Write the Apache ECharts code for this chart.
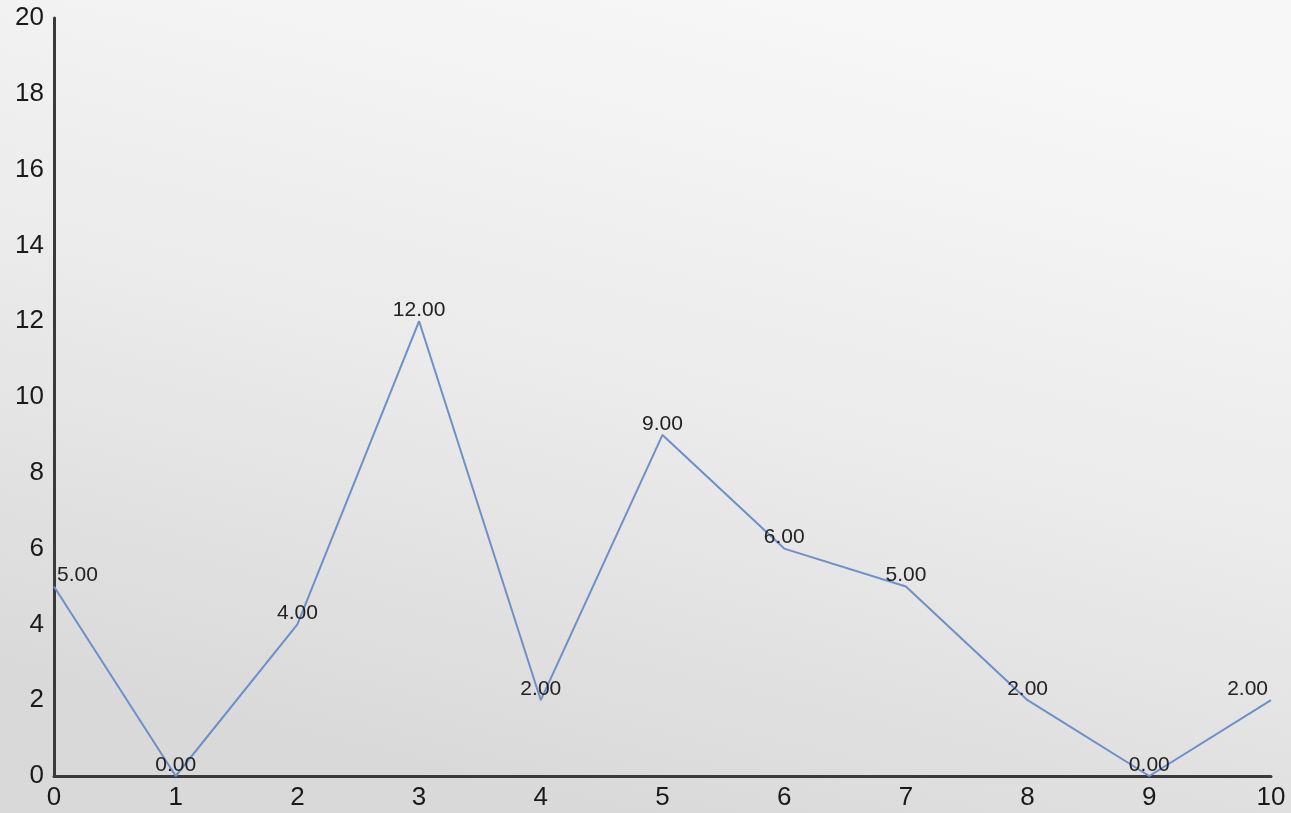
<!DOCTYPE html>
<html>
<head>
<meta charset="utf-8">
<script src="https://cdn.jsdelivr.net/npm/echarts@6/dist/echarts.min.js"></script>
<style>
html,body{margin:0;padding:0;}
#c{width:1291px;height:813px;}
</style>
</head>
<body>
<div id="c"></div>
<script>
var xValues = [0, 1, 2, 3, 4, 5, 6, 7, 8, 9, 10];
var yValues = [5, 0, 4, 12, 2, 9, 6, 5, 2, 0, 2];
var xTicks = [0, 1, 2, 3, 4, 5, 6, 7, 8, 9, 10];
var yTicks = [0, 2, 4, 6, 8, 10, 12, 14, 16, 18, 20];

var last = xValues.length - 1;
var seriesData = xValues.map(function (x, i) {
  var item = { value: [x, yValues[i]] };
  if (i === 0) item.label = { align: 'left', offset: [3, 0] };
  if (i === last) item.label = { align: 'right', offset: [-3, 0] };
  return item;
});

var FONT = '"Liberation Sans", Arial, sans-serif';
var chart = echarts.init(document.getElementById('c'), null, { renderer: 'canvas' });
chart.setOption({
  animation: false,
  backgroundColor: {
    type: 'linear', x: 0.6, y: 0, x2: 0.45, y2: 1,
    colorStops: [
      { offset: 0, color: '#f7f7f7' },
      { offset: 0.5, color: '#ebebeb' },
      { offset: 1, color: '#d9d9d9' }
    ]
  },
  grid: { left: 54, right: 20, top: 18, bottom: 37, containLabel: false },
  xAxis: {
    type: 'value',
    min: xTicks[0], max: xTicks[xTicks.length - 1], interval: 1,
    axisLine: { show: true, lineStyle: { color: '#3a3a3a', width: 3 } },
    axisTick: { show: false },
    splitLine: { show: false },
    axisLabel: { color: '#1a1a1a', fontSize: 26, fontFamily: FONT, margin: 9 }
  },
  yAxis: {
    type: 'value',
    min: yTicks[0], max: yTicks[yTicks.length - 1], interval: 2,
    axisLine: { show: true, lineStyle: { color: '#3a3a3a', width: 3 } },
    axisTick: { show: false },
    splitLine: { show: false },
    axisLabel: { color: '#1a1a1a', fontSize: 26, fontFamily: FONT, margin: 10 }
  },
  series: [{
    type: 'line',
    data: seriesData,
    symbol: 'circle',
    symbolSize: 1,
    showSymbol: true,
    itemStyle: { color: 'rgba(110,144,196,0)' },
    lineStyle: { color: '#6e90c4', width: 2 },
    label: {
      show: true,
      position: 'top',
      distance: 0,
      color: '#222222',
      fontSize: 21,
      fontFamily: FONT,
      formatter: function (p) { return p.value[1].toFixed(2); }
    }
  }]
});
</script>
</body>
</html>
